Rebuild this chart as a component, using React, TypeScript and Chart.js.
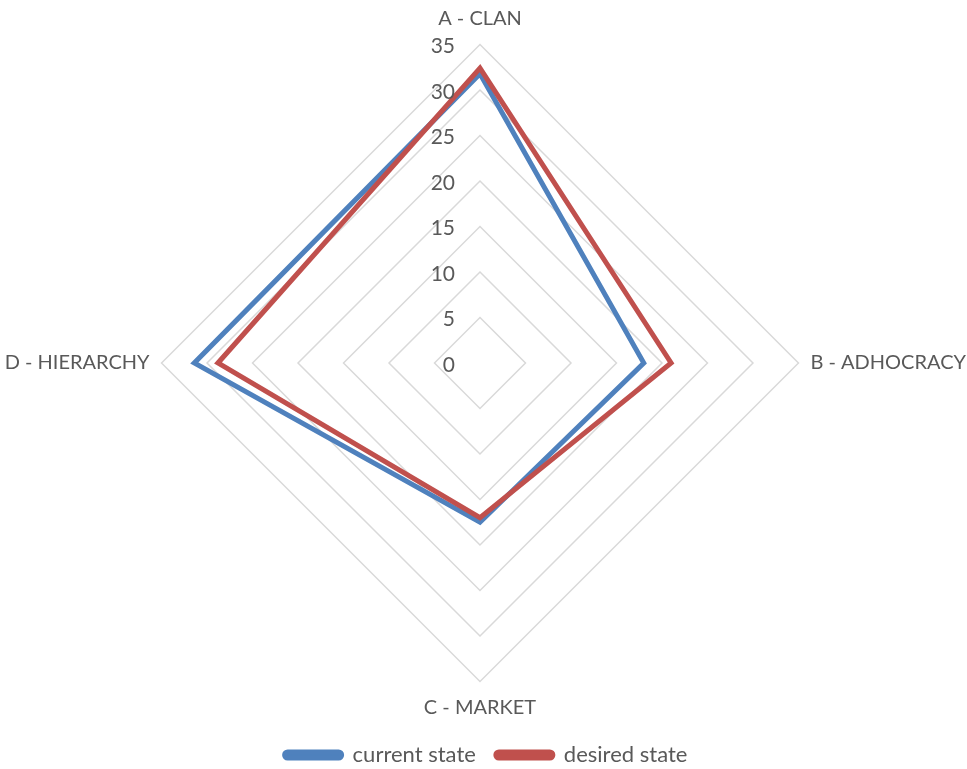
import React, { useEffect, useRef } from "react";
import { Chart, registerables } from "chart.js";

Chart.register(...registerables);

const categories = ["A - CLAN", "B - ADHOCRACY", "C - MARKET", "D - HIERARCHY"];
const currentState = [31.8, 18.0, 17.5, 31.4];
const desiredState = [32.4, 21.0, 17.0, 28.8];
const tickValues = [0, 5, 10, 15, 20, 25, 30, 35];

const FONT = "Lato, 'Open Sans', sans-serif";
const TEXT = "#595959";

const tickLabelPlugin = {
  id: "tickLabelPlugin",
  afterDatasetsDraw(chart: any) {
    const scale = chart.scales.r;
    const ctx = chart.ctx;
    ctx.save();
    ctx.font = `21px ${FONT}`;
    ctx.fillStyle = TEXT;
    ctx.textAlign = "right";
    ctx.textBaseline = "middle";
    tickValues.forEach((v) => {
      const d = scale.getDistanceFromCenterForValue(v);
      ctx.fillText(String(v), scale.xCenter - 25, scale.yCenter - d + 2);
    });
    ctx.restore();
  },
};

export default function App() {
  const ref = useRef<HTMLCanvasElement>(null);
  useEffect(() => {
    const chart = new Chart(ref.current as HTMLCanvasElement, {
      type: "radar",
      data: {
        labels: categories,
        datasets: [
          {
            label: "current state",
            data: currentState,
            borderColor: "#4F81BD",
            backgroundColor: "#4F81BD",
            borderWidth: 5,
            pointRadius: 0,
            fill: false,
            order: 1,
          },
          {
            label: "desired state",
            data: desiredState,
            borderColor: "#C0504D",
            backgroundColor: "#C0504D",
            borderWidth: 5,
            pointRadius: 0,
            fill: false,
            order: 0,
          },
        ],
      },
      options: {
        responsive: false,
        animation: false,
        layout: { padding: { top: 2, bottom: -7, left: 0, right: 0 } },
        scales: {
          r: {
            min: 0,
            max: 35,
            ticks: { stepSize: 5, display: false },
            grid: { color: "#D9D9D9", lineWidth: 1.5, circular: false },
            angleLines: { display: false },
            pointLabels: {
              font: { family: FONT, size: 20 },
              color: TEXT,
              padding: (c: any) => (c.index % 2 === 0 ? 14 : 12),
            },
          },
        },
        plugins: {
          tooltip: { enabled: false },
          legend: {
            position: "bottom",
            labels: {
              font: { family: FONT, size: 22 },
              color: TEXT,
              boxWidth: 57,
              boxHeight: 6,
              useBorderRadius: true,
              borderRadius: 3,
              padding: 20,
              sort: (a: any, b: any) => a.datasetIndex - b.datasetIndex,
            },
          },
        },
      },
      plugins: [tickLabelPlugin],
    } as any);
    return () => chart.destroy();
  }, []);
  return (
    <div
      style={{
        position: "absolute",
        left: 0,
        top: 0,
        width: 967,
        height: 769,
        overflow: "hidden",
      }}
    >
      <canvas
        ref={ref}
        width={972}
        height={769}
        style={{ position: "absolute", left: 0, top: 0, display: "block" }}
      />
    </div>
  );
}
